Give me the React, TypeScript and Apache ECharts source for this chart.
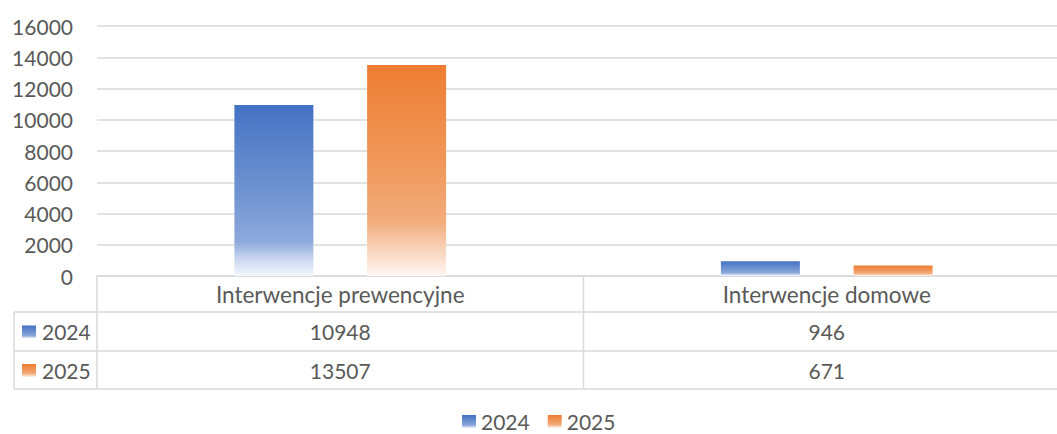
import React, { useEffect, useRef } from "react";
import * as echarts from "echarts";

const categories = ["Interwencje prewencyjne", "Interwencje domowe"];
const years = ["2024", "2025"];
const values2024 = [10948, 946];
const values2025 = [13507, 671];
const yMin = 0;
const yMax = 16000;
const yStep = 2000;

const FONT = "Lato";
const TEXT = "#595959";
const LINE = "#D9D9D9";
const NUM_SIZE = 21;
const WORD_SIZE = 22.5;

const blueGrad = () =>
  new echarts.graphic.LinearGradient(0, 0, 0, 1, [
    { offset: 0, color: "#4472C4" },
    { offset: 0.5, color: "#6E93D0" },
    { offset: 0.8, color: "#8EA9DC" },
    { offset: 0.9, color: "#C9D6EF" },
    { offset: 1, color: "#F3F6FC" },
  ]);
const orangeGrad = () =>
  new echarts.graphic.LinearGradient(0, 0, 0, 1, [
    { offset: 0, color: "#ED7D31" },
    { offset: 0.5, color: "#F09A5E" },
    { offset: 0.74, color: "#F2AC7B" },
    { offset: 0.87, color: "#F8D2B8" },
    { offset: 1, color: "#FEF6F1" },
  ]);

export default function App() {
  const ref = useRef<HTMLDivElement>(null);
  useEffect(() => {
    if (!ref.current) return;
    const chart = echarts.init(ref.current, undefined, { renderer: "svg" });
    const W = 1057;
    const gridLeft = 97;
    const gridTop = 26;
    const gridH = 250;
    const gridW = 973;
    const band = gridW / categories.length;
    const axisY = gridTop + gridH;
    const rowLines = [axisY, 312, 351, 389];
    const tableLeft = 14;
    const grads = [blueGrad, orangeGrad];
    const seriesVals = [values2024, values2025];
    const lineStyle = { stroke: LINE, lineWidth: 1.5 };

    const graphics: any[] = [];
    for (let k = 1; k <= 3; k++) {
      graphics.push({ type: "line", shape: { x1: tableLeft, y1: rowLines[k], x2: W, y2: rowLines[k] }, style: lineStyle, silent: true });
    }
    graphics.push({ type: "line", shape: { x1: tableLeft, y1: rowLines[1], x2: tableLeft, y2: rowLines[3] }, style: lineStyle, silent: true });
    for (let i = 0; i < categories.length; i++) {
      const x = gridLeft + band * i;
      graphics.push({ type: "line", shape: { x1: x, y1: axisY, x2: x, y2: rowLines[3] }, style: lineStyle, silent: true });
    }
    categories.forEach((c, i) => {
      graphics.push({
        type: "text",
        x: gridLeft + band * (i + 0.5),
        y: (rowLines[0] + rowLines[1]) / 2,
        style: { text: c, fill: TEXT, font: `${WORD_SIZE}px ${FONT}`, textAlign: "center", textVerticalAlign: "middle" },
        silent: true,
      });
    });
    years.forEach((yr, r) => {
      const cy = (rowLines[r + 1] + rowLines[r + 2]) / 2;
      graphics.push({
        type: "rect",
        shape: { x: 22, y: cy - 6, width: 14, height: 13 },
        style: { fill: grads[r]() },
        silent: true,
      });
      graphics.push({
        type: "text",
        x: 42,
        y: cy,
        style: { text: yr, fill: TEXT, font: `${NUM_SIZE}px ${FONT}`, textAlign: "left", textVerticalAlign: "middle" },
        silent: true,
      });
      seriesVals[r].forEach((v, i) => {
        graphics.push({
          type: "text",
          x: gridLeft + band * (i + 0.5),
          y: cy,
          style: { text: String(v), fill: TEXT, font: `${NUM_SIZE}px ${FONT}`, textAlign: "center", textVerticalAlign: "middle" },
          silent: true,
        });
      });
    });

    chart.setOption({
      animation: false,
      backgroundColor: "#ffffff",
      textStyle: { fontFamily: FONT },
      grid: { left: gridLeft, top: gridTop, width: gridW, height: gridH, containLabel: false },
      legend: {
        top: 411,
        left: 462,
        itemWidth: 14,
        itemHeight: 13,
        itemGap: 18,
        icon: "rect",
        padding: 0,
        textStyle: { color: TEXT, fontSize: NUM_SIZE, fontFamily: FONT, lineHeight: 18, padding: [0, 0, 0, 0] },
        data: years,
      },
      xAxis: {
        type: "category",
        data: categories,
        axisLine: { show: true, lineStyle: { color: LINE, width: 1.5 } },
        axisTick: { show: false },
        axisLabel: { show: false },
        splitLine: { show: false },
      },
      yAxis: {
        type: "value",
        min: yMin,
        max: yMax,
        interval: yStep,
        axisLine: { show: false },
        axisTick: { show: false },
        axisLabel: { color: TEXT, fontSize: NUM_SIZE, fontFamily: FONT, margin: 24, formatter: (v: number) => String(v) },
        splitLine: { lineStyle: { color: LINE, width: 1.5 } },
      },
      series: [
        {
          name: years[0],
          type: "bar",
          data: values2024,
          barWidth: 79,
          barGap: "68%",
          itemStyle: { color: blueGrad() },
        },
        {
          name: years[1],
          type: "bar",
          data: values2025,
          barWidth: 79,
          barGap: "68%",
          itemStyle: { color: orangeGrad() },
        },
      ],
      graphic: graphics,
    });
    return () => chart.dispose();
  }, []);
  return (
    <div style={{ width: 1057, height: 434, position: "absolute", left: 0, top: 0, overflow: "hidden" }}>
      <div ref={ref} style={{ width: 1080, height: 434, position: "absolute", left: 0, top: 0 }} />
    </div>
  );
}
